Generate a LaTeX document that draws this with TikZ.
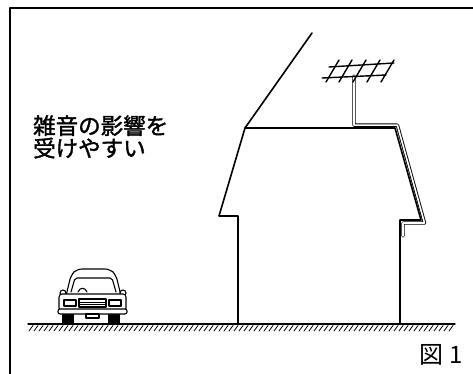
\documentclass[tikz,border=0pt]{standalone}
\usepackage{fontspec}
\newfontfamily\jp{Noto Sans CJK JP}
\newfontfamily\jpmed[FakeBold=1.6]{Noto Sans CJK JP}
\begin{document}
\begin{tikzpicture}[x=1pt,y=-1pt,line join=round,line cap=round,
  edge/.style={line width=1.6pt},
  carline/.style={line width=1.1pt},
  ant/.style={line width=1.4pt},
  cable/.style={line width=0.9pt,double=white,double distance=1.6pt},
  txt/.style={font=\jpmed\fontsize{22.5}{22.5}\selectfont,inner sep=0pt,align=left},
  figtxt/.style={font=\jp\fontsize{24}{24}\selectfont,inner sep=0pt}]
\useasboundingbox (0,0) rectangle (473,374);
% frame
\draw[line width=2pt] (10,374) -- (10,8.5) -- (473,8.5);
% ground
\draw[line width=1.4pt] (28,324) -- (455,324);
\foreach \x in {30,35,...,450} \draw[line width=0.8pt] (\x+3,325.5) -- (\x-1,331);
% house
\draw[edge] (238,324) -- (238,216) -- (219,216) -- (245,128) -- (395,128) -- (421,220) -- (400,220) -- (400,324);
\draw[edge] (245,128) -- (312,33);
% mast and cable
\draw[cable] (354,76) -- (354,125.2) -- (397.4,125.2) -- (424.5,223) -- (403,223) -- (403,236);
% antenna
\draw[ant] (329,67) -- (394,63);
\draw[ant] (322,78) -- (386,75);
\foreach \x in {333,346,360,374,388}
  \draw[ant] (\x-7,82) -- (\x+6,60);
% car
\draw[carline,fill=white,rounded corners=5pt] (66,296) -- (71,275) -- (77,269) -- (110,269) -- (116,275) -- (121,296);
\draw[carline,rounded corners=2pt] (71,292) -- (75,278) -- (112,278) -- (116,292);
\draw[carline] (78,292) .. controls (80,287) and (85,287) .. (87,292);
\draw[carline,fill=white] (63,293) circle (3);
\draw[carline,fill=white] (123,293) circle (3);
\draw[carline,fill=black] (63,312) rectangle (73,323);
\draw[carline,fill=black] (109,312) rectangle (119,323);
\draw[carline,fill=white,rounded corners=3pt] (59,294) rectangle (126,311);
\draw[carline] (64,300) rectangle (76,306);
\draw[carline] (109,300) rectangle (121,306);
\draw[carline] (79,299) rectangle (106,307);
\draw[line width=0.7pt] (80,302) -- (105,302) (80,304.5) -- (105,304.5);
\draw[carline,fill=white,rounded corners=2pt] (58,309) rectangle (127,314);
\draw[carline,fill=white] (86,314) rectangle (99,318);
% texts
\node[txt,anchor=north west] (note) at (33,115) {雑音の影響を\\受けやすい};
\node[figtxt,anchor=center] (fig) at (441,355) {図\hspace{6pt}1};
\end{tikzpicture}
\end{document}
